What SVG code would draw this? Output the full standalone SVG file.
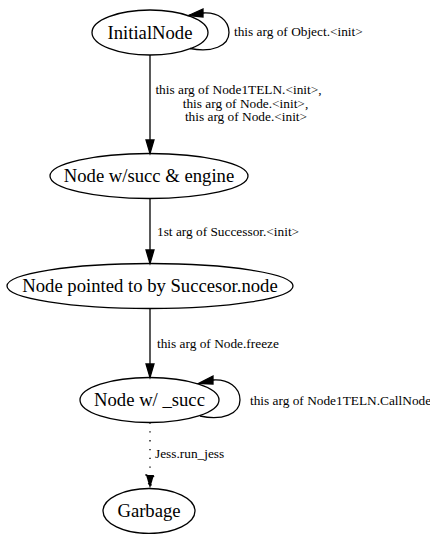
<svg xmlns="http://www.w3.org/2000/svg" width="430" height="534" viewBox="0 0 430 534">
<style>
.node ellipse{fill:none;stroke:#000;stroke-width:1.3}
.node text{font-size:18.67px;text-anchor:middle;fill:#000}
.edge path{fill:none;stroke:#000;stroke-width:1.3}
.edge polygon{fill:#000;stroke:#000;stroke-width:1.3}
.dotted{stroke-dasharray:1.3,7.5}
.lbl{font-size:13.33px;fill:#000}
</style>
<rect width="430" height="534" fill="#fff"/>
<g font-family="Liberation Serif, Times New Roman, Times, serif">
<g id="edges">
  <g class="edge" id="e-init-self">
    <path d="M190,48.5 C212,53 229,46 229,32.5 C229,20 218,12 203,13"/>
    <polygon points="203,9 203,17 188.5,15.5"/>
    <text class="lbl" x="234" y="36">this arg of Object.&lt;init&gt;</text>
  </g>
  <g class="edge" id="e-init-succ">
    <path d="M150,55 L150,140"/>
    <polygon points="146,140 154,140 150,153.5"/>
    <text class="lbl" x="238.5" y="94" text-anchor="middle">this arg of Node1TELN.&lt;init&gt;,</text>
    <text class="lbl" x="245.5" y="107.5" text-anchor="middle">this arg of Node.&lt;init&gt;,</text>
    <text class="lbl" x="246" y="121" text-anchor="middle">this arg of Node.&lt;init&gt;</text>
  </g>
  <g class="edge" id="e-succ-pointed">
    <path d="M150,198.5 L150,250"/>
    <polygon points="146,250 154,250 150,263.5"/>
    <text class="lbl" x="157" y="236">1st arg of Successor.&lt;init&gt;</text>
  </g>
  <g class="edge" id="e-pointed-w">
    <path d="M150,308.5 L150,364"/>
    <polygon points="146,364 154,364 150,377.5"/>
    <text class="lbl" x="157" y="347.5">this arg of Node.freeze</text>
  </g>
  <g class="edge" id="e-w-self">
    <path d="M200,416 C222,421 240,414 240,400 C240,387 228,379 213,380"/>
    <polygon points="213,376 213,384 198.5,383.5"/>
    <text class="lbl" x="250" y="404.5">this arg of Node1TELN.CallNode</text>
  </g>
  <g class="edge" id="e-w-garbage">
    <path class="dotted" d="M150,422.5 L150,475"/>
    <polygon class="dotted" points="146,475 154,475 150,488.5"/>
    <text class="lbl" x="155" y="458">Jess.run_jess</text>
  </g>
</g>
<g class="node" id="InitialNode">
  <ellipse cx="150" cy="32.5" rx="58" ry="22.5"/>
  <text x="150" y="38.5">InitialNode</text>
</g>
<g class="node" id="NodeSuccEngine">
  <ellipse cx="149" cy="176" rx="99" ry="22.5"/>
  <text x="149" y="182">Node w/succ &amp; engine</text>
</g>
<g class="node" id="NodePointed">
  <ellipse cx="150" cy="286" rx="143" ry="22.5"/>
  <text x="150" y="292">Node pointed to by Succesor.node</text>
</g>
<g class="node" id="NodeWSucc">
  <ellipse cx="149.5" cy="400" rx="69.5" ry="22.5"/>
  <text x="149.5" y="406">Node w/ _succ</text>
</g>
<g class="node" id="Garbage">
  <ellipse cx="149" cy="511" rx="46" ry="22.5"/>
  <text x="149" y="517">Garbage</text>
</g>
</g>
</svg>
